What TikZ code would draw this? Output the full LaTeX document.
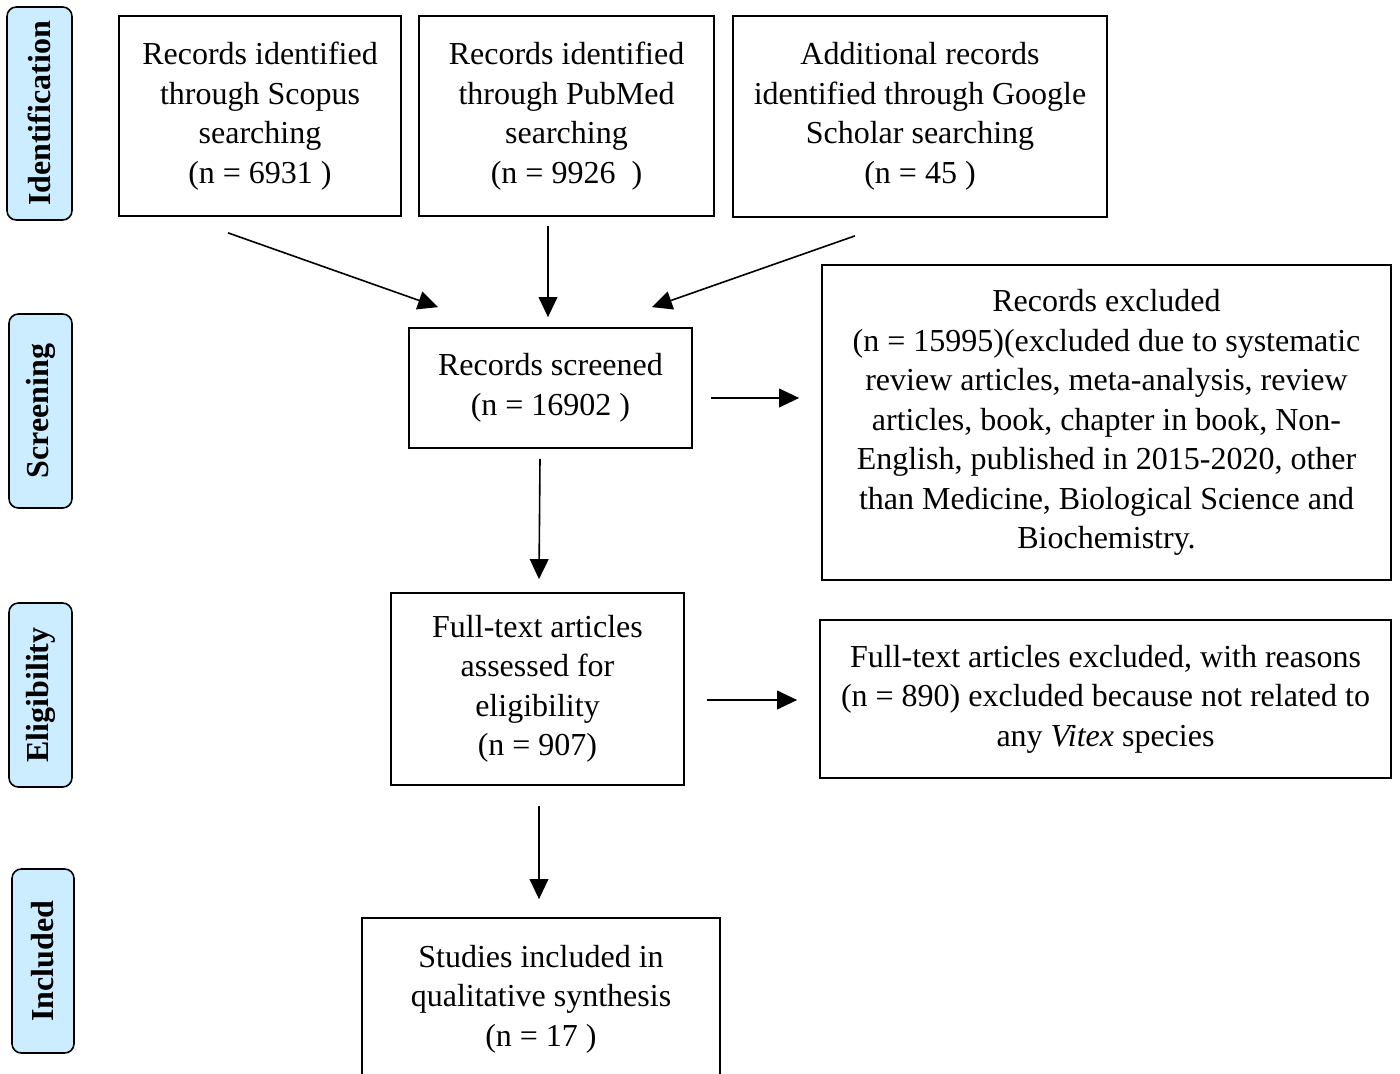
\documentclass[tikz,border=0pt]{standalone}
\usepackage{fontspec}
\setmainfont{Liberation Serif}
\usetikzlibrary{arrows.meta}
\definecolor{sidefill}{HTML}{CCECFF}
\begin{document}
\begin{tikzpicture}[x=0.75pt,y=-0.75pt,
  box/.style={draw=black,line width=1.3pt,inner sep=0pt,align=center,
    font=\fontsize{24pt}{29.6pt}\selectfont},
  side/.style={draw=black,line width=1.2pt,fill=sidefill,rounded corners=7pt,
    rotate=90,inner sep=0pt,font=\fontsize{24pt}{29pt}\selectfont\bfseries},
  arr/.style={line width=1.2pt,-{Triangle[length=15pt,width=14pt]}}]
\clip (0,0) rectangle (1400,1074);
\fill[white] (0,0) rectangle (1400,1074);
% side labels
\node[side,minimum width=159.75pt,minimum height=48.75pt] (sid) at (39.5,113.5) {Identification};
\node[side,minimum width=145.5pt,minimum height=47.25pt] (ssc) at (40.5,411) {Screening};
\node[side,minimum width=138pt,minimum height=47.25pt] (sel) at (40.5,695) {Eligibility};
\node[side,minimum width=138pt,minimum height=46.5pt] (sin) at (43,961) {Included};
% boxes
\node[box,minimum width=211.5pt,minimum height=150pt] (b1) at (260,116)
  {Records identified\\through Scopus\\searching\\(n = 6931 )};
\node[box,minimum width=221.25pt,minimum height=150pt] (b2) at (566.5,116)
  {Records identified\\through PubMed\\searching\\(n = 9926 \ )};
\node[box,minimum width=280.5pt,minimum height=150.75pt] (b3) at (920,116.5)
  {Additional records\\identified through Google\\Scholar searching\\(n = 45 )};
\node[box,minimum width=212.25pt,minimum height=90pt] (scr) at (550.5,388)
  {Records screened\\(n = 16902 )};
\node[box,minimum width=426.75pt,minimum height=236.25pt] (exc) at (1106.5,422.5)
  {Records excluded\\(n = 15995)(excluded due to systematic\\review articles, meta-analysis, review\\articles, book, chapter in book, Non-\\English, published in 2015-2020, other\\than Medicine, Biological Science and\\Biochemistry.};
\node[box,minimum width=219.75pt,minimum height=144pt] (ft) at (537.5,689)
  {Full-text articles\\assessed for\\eligibility\\(n = 907)};
\node[box,minimum width=428.25pt,minimum height=118.5pt] (ex2) at (1105.5,699)
  {Full-text articles excluded, with reasons\\(n = 890) excluded because not related to\\any \textit{Vitex} species};
\node[box,minimum width=268.5pt,minimum height=121.5pt] (inc) at (541,999)
  {Studies included in\\qualitative synthesis\\(n = 17 )};
% arrows
\draw[arr] ([shift={(-32,16)}]b1.south) -- ([shift={(-112.5,-20)}]scr.north);
\draw[arr] ([shift={(-18.5,9)}]b2.south) -- ([shift={(-2.5,-10)}]scr.north);
\draw[arr] ([shift={(-65,18)}]b3.south) -- ([shift={(101.5,-20)}]scr.north);
\draw[arr] ([shift={(18,10)}]scr.east) -- ([shift={(-22,-24.5)}]exc.west);
\draw[arr] ([shift={(-10.5,10)}]scr.south) -- ([shift={(1.5,-13)}]ft.north);
\draw[arr] ([shift={(22,11)}]ft.east) -- ([shift={(-22,1)}]ex2.west);
\draw[arr] ([shift={(1.5,20)}]ft.south) -- ([shift={(-2,-18)}]inc.north);
\end{tikzpicture}
\end{document}
